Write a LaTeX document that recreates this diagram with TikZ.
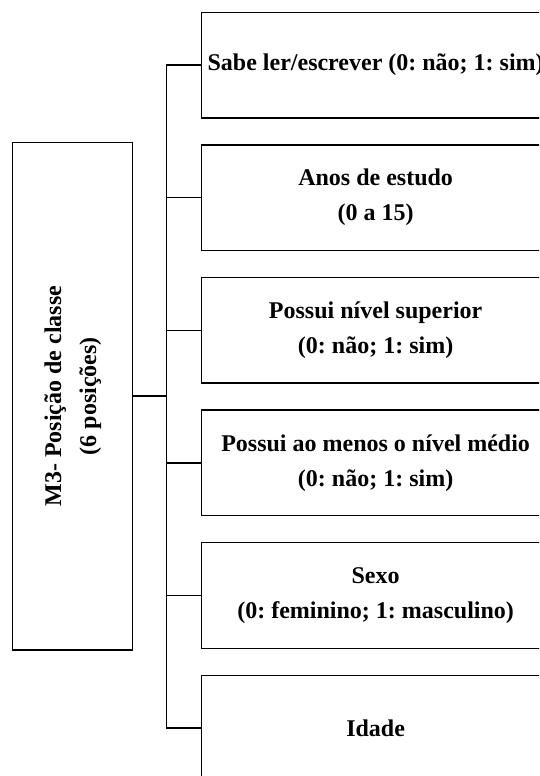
\documentclass[tikz,border=0pt]{standalone}
\usepackage{fontspec}
\setmainfont{Liberation Serif}
\frenchspacing
\begin{document}
\begin{tikzpicture}[x=1pt,y=-1pt,line join=miter,font=\bfseries\fontsize{24}{35}\selectfont]
	\tikzset{item style/.style={draw,line width=1.5pt,minimum width=348.7pt,minimum height=105.6pt,align=center,inner sep=0pt,outer sep=0pt,anchor=west}}
	\tikzset{main style/.style={draw,line width=1.5pt,rotate=90,minimum width=507.3pt,minimum height=120pt,align=center,inner sep=0pt,outer sep=0pt}}
	\def \xbus{166.7}
	\def \xbox{201.3}
	\def \ytop{65.1}
	\def \ystep{132.6}
	\useasboundingbox (0,0) rectangle (539,776);
	\begin{scope}
		\clip (0,0) rectangle (539,776);
		\coordinate (bus) at (\xbus,0);
		\node[main style] (m3) at (72.7,396.3) {M3- Posição de classe\\(6 posições)};
		\node[item style] (v1) at (\xbox,\ytop) {Sabe ler/escrever (0: não; 1: sim)};
		\node[item style] (v2) at (\xbox,\ytop+\ystep) {Anos de estudo\\(0 a 15)};
		\node[item style] (v3) at (\xbox,\ytop+2*\ystep) {Possui nível superior\\(0: não; 1: sim)};
		\node[item style] (v4) at (\xbox,\ytop+3*\ystep) {Possui ao menos o nível médio\\(0: não; 1: sim)};
		\node[item style] (v5) at (\xbox,\ytop+4*\ystep) {Sexo\\(0: feminino; 1: masculino)};
		\node[item style] (v6) at (\xbox,\ytop+5*\ystep) {Idade};
		\draw[line width=2.2pt] (m3.south) -- (m3.south -| bus);
		\draw[line width=1.5pt] (v1.west) -- (v1.west -| bus) -- (v6.west -| bus) -- (v6.west);
		\foreach \i in {2,...,5}
			\draw[line width=1.5pt] (v\i.west) -- (v\i.west -| bus);
	\end{scope}
\end{tikzpicture}
\end{document}
